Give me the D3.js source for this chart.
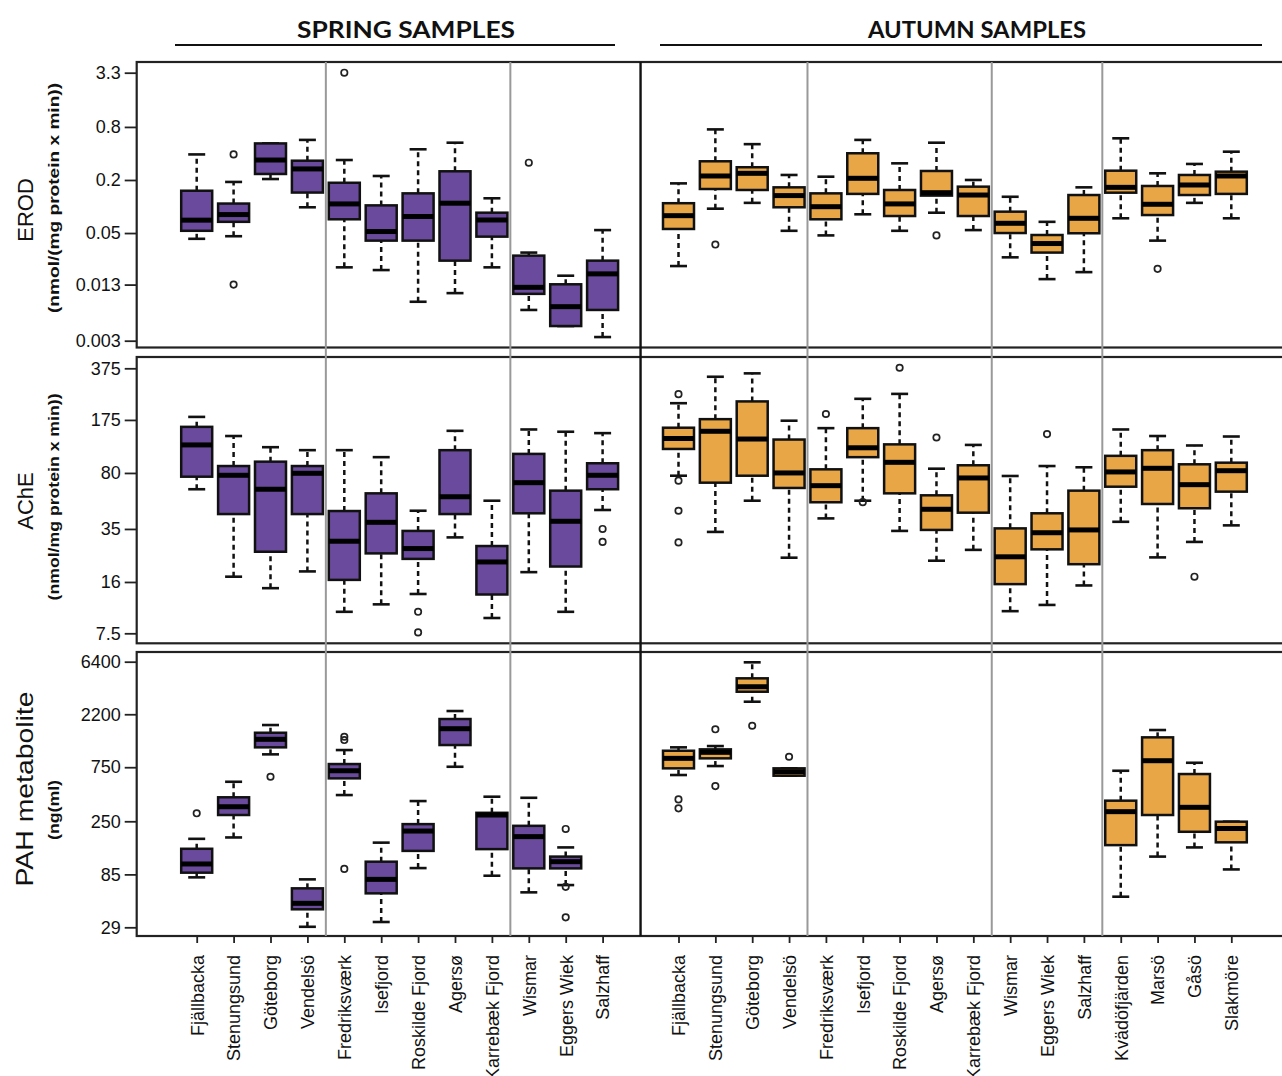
<!DOCTYPE html>
<html>
<head>
<meta charset="utf-8">
<script src="https://cdn.jsdelivr.net/npm/d3@7"></script>
<style>
body { margin: 0; background: #fff; }
text { font-family: "Liberation Sans", Arial, sans-serif; fill: #111; }
</style>
</head>
<body>
<div id="my_dataviz"></div>
<script>
// * DATA
const springSites = ["Fjällbacka","Stenungsund","Göteborg","Vendelsö","Fredriksværk","Isefjord","Roskilde Fjord","Agersø","Karrebæk Fjord","Wismar","Eggers Wiek","Salzhaff"];
const autumnSites = ["Fjällbacka","Stenungsund","Göteborg","Vendelsö","Fredriksværk","Isefjord","Roskilde Fjord","Agersø","Karrebæk Fjord","Wismar","Eggers Wiek","Salzhaff","Kvädöfjärden","Marsö","Gåsö","Slakmöre"];
// index of the last site of each region (grey line after it)
const springGroupEnds = [3, 8];
const autumnGroupEnds = [3, 8, 11];

const erodTicks = [0.003, 0.013, 0.05, 0.2, 0.8, 3.3];
const acheTicks = [7.5, 16, 35, 80, 175, 375];
const pahTicks = [29, 85, 250, 750, 2200, 6400];

// box stats: [lower whisker, Q1, median, Q3, upper whisker]
const erodSpring = [
  [0.043, 0.053, 0.070, 0.151, 0.39],
  [0.046, 0.067, 0.081, 0.108, 0.19],
  [0.205, 0.234, 0.337, 0.52, 0.52],
  [0.098, 0.144, 0.267, 0.331, 0.57],
  [0.0204, 0.0716, 0.107, 0.186, 0.337],
  [0.019, 0.041, 0.052, 0.103, 0.222],
  [0.0083, 0.041, 0.077, 0.141, 0.446],
  [0.0104, 0.0243, 0.109, 0.251, 0.53],
  [0.0204, 0.0455, 0.0703, 0.0851, 0.124],
  [0.0067, 0.0102, 0.0121, 0.0277, 0.030],
  [0.0044, 0.0044, 0.0073, 0.0131, 0.0164],
  [0.0033, 0.0067, 0.0172, 0.0243, 0.054]
];
const erodSpringOut = [[], [0.39, 0.013], [], [], [3.3], [], [], [], [], [0.314], [], []];

const erodAutumn = [
  [0.0211, 0.0556, 0.0787, 0.109, 0.183],
  [0.0945, 0.158, 0.222, 0.326, 0.75],
  [0.11, 0.154, 0.238, 0.279, 0.51],
  [0.053, 0.098, 0.133, 0.165, 0.228],
  [0.047, 0.0716, 0.0995, 0.141, 0.218],
  [0.0816, 0.139, 0.209, 0.402, 0.57],
  [0.053, 0.078, 0.107, 0.154, 0.309],
  [0.085, 0.133, 0.1435, 0.253, 0.53],
  [0.054, 0.078, 0.135, 0.168, 0.2],
  [0.0265, 0.05, 0.0645, 0.0874, 0.129],
  [0.015, 0.030, 0.038, 0.0475, 0.067],
  [0.018, 0.0497, 0.0735, 0.135, 0.165],
  [0.0735, 0.1435, 0.165, 0.255, 0.594],
  [0.041, 0.080, 0.106, 0.171, 0.238],
  [0.11, 0.135, 0.1755, 0.228, 0.304],
  [0.0735, 0.139, 0.222, 0.2485, 0.419]
];
const erodAutumnOut = [[], [0.037], [], [], [], [], [], [0.047], [], [], [], [], [], [0.0196], [], []];

const acheSpring = [
  [62.9, 75.7, 121, 158, 183],
  [17.3, 43.6, 77.3, 88.6, 138],
  [14.6, 25.0, 62.9, 94.5, 117],
  [18.7, 43.6, 79.6, 88.6, 112],
  [10.3, 16.5, 29.2, 45.6, 112],
  [11.5, 24.4, 38.6, 59.2, 101],
  [13.4, 22.5, 26.2, 34.0, 45.8],
  [30.9, 43.6, 56.3, 112, 149],
  [9.4, 13.3, 21.5, 27.2, 53.1],
  [18.5, 44.1, 69.3, 106, 152],
  [10.3, 20.1, 39.2, 61.6, 147],
  [46.3, 62.9, 77.3, 92.3, 144]
];
const acheSpringOut = [[], [], [], [], [], [], [10.3, 7.6], [], [], [], [], [35, 28.9]];

const acheAutumn = [
  [76.8, 114, 133, 156, 224],
  [33.5, 69.3, 148, 177, 331],
  [53.1, 76.8, 132, 230, 348],
  [22.9, 64.1, 80, 131, 173],
  [40.9, 51.9, 66.3, 84.4, 155],
  [53.1, 101, 116, 155, 239],
  [34, 59.2, 93.6, 122, 257],
  [21.9, 34.5, 46.8, 57.5, 85.2],
  [25.7, 44.5, 74.3, 89.6, 121],
  [10.4, 15.5, 23.2, 35.3, 76.5],
  [11.4, 25.9, 33.1, 44.1, 88.6],
  [15.2, 20.8, 34.5, 61.6, 87],
  [38.9, 65.3, 81.2, 103, 152],
  [23.0, 50.6, 85.7, 112, 138],
  [28.9, 47.5, 67.3, 90.9, 120],
  [36.9, 60.7, 82.7, 93.1, 137]
];
const acheAutumnOut = [[256, 71.4, 45.8, 28.7], [], [], [], [191], [52], [378], [135], [], [], [142], [], [], [], [17.3], []];

const pahSpring = [
  [80, 88, 105, 143, 175],
  [180, 284, 336, 407, 558],
  [974, 1123, 1322, 1511, 1767],
  [29.3, 41.8, 47.2, 64, 76.8],
  [426, 598, 698, 800, 1063],
  [32.3, 57.8, 76.8, 110, 162],
  [96.6, 137, 205, 236, 377],
  [757, 1177, 1640, 1997, 2349],
  [82.7, 142, 284, 297, 412],
  [59, 96, 183, 228, 403],
  [68.4, 96, 110, 122, 147],
  null
];
const pahSpringOut = [[294], [], [618], [], [1393, 1303, 95], [], [], [], [], [], [214, 66, 35.5], []];

const pahAutumn = [
  [640, 733, 898, 1048, 1123],
  [768, 898, 1015, 1078, 1153],
  [2838, 3477, 3848, 4565, 6319],
  [631, 631, 684, 733, 733],
  null, null, null, null, null, null, null, null,
  [54, 154, 304, 380, 698],
  [122, 284, 856, 1376, 1597],
  [147, 202, 332, 653, 821],
  [94, 163, 216, 248, 248]
];
const pahAutumnOut = [[390, 325], [1620, 511], [1742], [928], [], [], [], [], [], [], [], [], [], [], [], []];

// * LAYOUT
const springColor = "#6a4a9c";
const autumnColor = "#e8a646";
var boxW = 31, capW = 17;
var plotLeft = 136.7, plotRight = 1292;

var panels = [
  {title: "EROD", unit: "(nmol/(mg protein x min))", ticks: erodTicks,
   spring: erodSpring, springOut: erodSpringOut, autumn: erodAutumn, autumnOut: erodAutumnOut,
   top: 62, bottom: 347.5, lo: 340.7, hi: 72.7, titleY: 210, titleSize: 22, titleLen: null, unitY: 198, unitLen: 230},
  {title: "AChE", unit: "(nmol/mg protein x min))", ticks: acheTicks,
   spring: acheSpring, springOut: acheSpringOut, autumn: acheAutumn, autumnOut: acheAutumnOut,
   top: 357, bottom: 643.3, lo: 633.3, hi: 368.3, titleY: 501, titleSize: 22, titleLen: null, unitY: 497, unitLen: 207},
  {title: "PAH metabolite", unit: "(ng(ml)", ticks: pahTicks,
   spring: pahSpring, springOut: pahSpringOut, autumn: pahAutumn, autumnOut: pahAutumnOut,
   top: 652, bottom: 936, lo: 927.3, hi: 661.7, titleY: 789, titleSize: 24, titleLen: 195, unitY: 810, unitLen: 60}
];

var svg = d3.select("#my_dataviz")
  .append("svg")
  .attr("width", 1282)
  .attr("height", 1076)
  .style("display", "block")
  .style("background", "#fff");

var xSpring = d3.scalePoint().domain(springSites).range([196.7, 602.6]);
var xAutumn = d3.scalePoint().domain(autumnSites).range([678.5, 1231.3]);

// header
function header(label, cx, x1, x2) {
  svg.append("text")
    .attr("x", cx).attr("y", 38)
    .attr("text-anchor", "middle")
    .style("font-family", "Lato, 'Open Sans', sans-serif")
    .style("font-weight", "bold")
    .style("font-size", "22px")
    .attr("textLength", 218)
    .attr("lengthAdjust", "spacingAndGlyphs")
    .text(label);
  svg.append("line")
    .attr("x1", x1).attr("x2", x2)
    .attr("y1", 45).attr("y2", 45)
    .attr("stroke", "#111").attr("stroke-width", 2.2);
}
header("SPRING SAMPLES", 406, 175, 615);
header("AUTUMN SAMPLES", 977, 660, 1262);

function drawBoxes(parent, sites, x, y, stats, outs, fill) {
  var g = parent.append("g");
  var rows = stats.map(function(s, i) { return {site: sites[i], s: s, o: outs[i]}; })
    .filter(function(d) { return d.s; });

  var box = g.selectAll("g.box")
    .data(rows)
    .enter()
    .append("g")
    .attr("class", "box")
    .attr("transform", function(d) { return "translate(" + x(d.site) + ",0)"; });

  // whiskers
  box.append("line")
    .attr("y1", function(d) { return y(d.s[0]); })
    .attr("y2", function(d) { return y(d.s[1]); })
    .attr("stroke", "#111").attr("stroke-width", 2.5)
    .attr("stroke-dasharray", "5,4");
  box.append("line")
    .attr("y1", function(d) { return y(d.s[3]); })
    .attr("y2", function(d) { return y(d.s[4]); })
    .attr("stroke", "#111").attr("stroke-width", 2.5)
    .attr("stroke-dasharray", "5,4");
  // caps
  [0, 4].forEach(function(k) {
    box.append("line")
      .attr("x1", -capW / 2).attr("x2", capW / 2)
      .attr("y1", function(d) { return y(d.s[k]); })
      .attr("y2", function(d) { return y(d.s[k]); })
      .attr("stroke", "#111").attr("stroke-width", 2.6);
  });
  // box
  box.append("rect")
    .attr("x", -boxW / 2)
    .attr("width", boxW)
    .attr("y", function(d) { return y(d.s[3]); })
    .attr("height", function(d) { return Math.max(1, y(d.s[1]) - y(d.s[3])); })
    .attr("fill", fill)
    .attr("stroke", "#111").attr("stroke-width", 2.5);
  // median
  box.append("line")
    .attr("x1", -boxW / 2).attr("x2", boxW / 2)
    .attr("y1", function(d) { return y(d.s[2]); })
    .attr("y2", function(d) { return y(d.s[2]); })
    .attr("stroke", "#000").attr("stroke-width", 5);
  // outliers
  box.selectAll("circle")
    .data(function(d) { return d.o; })
    .enter()
    .append("circle")
    .attr("cx", 0)
    .attr("cy", function(v) { return y(v); })
    .attr("r", 3.2)
    .attr("fill", "none")
    .attr("stroke", "#222").attr("stroke-width", 1.7);
}

panels.forEach(function(p, pi) {
  var y = d3.scaleLog().domain([p.ticks[0], p.ticks[p.ticks.length - 1]]).range([p.lo, p.hi]);
  var g = svg.append("g");

  // y axis
  var yAxis = d3.axisLeft(y)
    .tickValues(p.ticks)
    .tickFormat(function(d) { return String(d); })
    .tickSize(12)
    .tickPadding(4);
  var ax = g.append("g")
    .attr("transform", "translate(" + plotLeft + ",0)")
    .call(yAxis);
  ax.select(".domain").remove();
  ax.selectAll(".tick line").attr("stroke", "#222").attr("stroke-width", 1.8);
  ax.selectAll(".tick text")
    .style("font-size", "18px")
    .style("font-family", "'Liberation Sans', Arial, sans-serif")
    .attr("fill", "#111");

  // titles
  var t = g.append("text")
    .attr("transform", "translate(33," + p.titleY + ") rotate(-90)")
    .attr("text-anchor", "middle")
    .style("font-size", p.titleSize + "px")
    .text(p.title);
  if (p.titleLen) t.attr("textLength", p.titleLen).attr("lengthAdjust", "spacingAndGlyphs");
  g.append("text")
    .attr("transform", "translate(59," + p.unitY + ") rotate(-90)")
    .attr("text-anchor", "middle")
    .style("font-size", "14px")
    .style("font-weight", "bold")
    .attr("textLength", p.unitLen)
    .attr("lengthAdjust", "spacingAndGlyphs")
    .text(p.unit);

  drawBoxes(g, springSites, xSpring, y, p.spring, p.springOut, springColor);
  drawBoxes(g, autumnSites, xAutumn, y, p.autumn, p.autumnOut, autumnColor);

  // frame
  g.append("rect")
    .attr("x", plotLeft).attr("y", p.top)
    .attr("width", plotRight - plotLeft).attr("height", p.bottom - p.top)
    .attr("fill", "none")
    .attr("stroke", "#222").attr("stroke-width", 2.2);

  // x axis on the last panel
  if (pi === panels.length - 1) {
    [xSpring, xAutumn].forEach(function(x) {
      var xa = g.append("g")
        .attr("transform", "translate(0," + p.bottom + ")")
        .call(d3.axisBottom(x).tickSize(7));
      xa.select(".domain").remove();
      xa.selectAll(".tick line").attr("stroke", "#222").attr("stroke-width", 1.8);
      xa.selectAll(".tick text")
        .attr("transform", "rotate(-90)")
        .attr("x", -19)
        .attr("y", 0)
        .attr("dy", "0.35em")
        .style("text-anchor", "end")
        .style("font-size", "18px")
        .style("font-family", "'Liberation Sans', Arial, sans-serif")
        .attr("fill", "#111");
    });
  }
});

// region separators (grey) and season divider (black)
var sepTop = panels[0].top, sepBottom = panels[panels.length - 1].bottom;
var greyX = springGroupEnds.map(function(i) { return xSpring(springSites[i]) + xSpring.step() / 2; })
  .concat(autumnGroupEnds.map(function(i) { return xAutumn(autumnSites[i]) + xAutumn.step() / 2; }));
svg.selectAll("line.sep")
  .data(greyX)
  .enter()
  .append("line")
  .attr("class", "sep")
  .attr("x1", function(d) { return d; }).attr("x2", function(d) { return d; })
  .attr("y1", sepTop).attr("y2", sepBottom)
  .attr("stroke", "#999").attr("stroke-width", 2);
var divX = (xSpring(springSites[springSites.length - 1]) + xAutumn(autumnSites[0])) / 2;
svg.append("line")
  .attr("x1", divX).attr("x2", divX)
  .attr("y1", sepTop).attr("y2", sepBottom)
  .attr("stroke", "#111").attr("stroke-width", 2.4);
</script>
</body>
</html>
